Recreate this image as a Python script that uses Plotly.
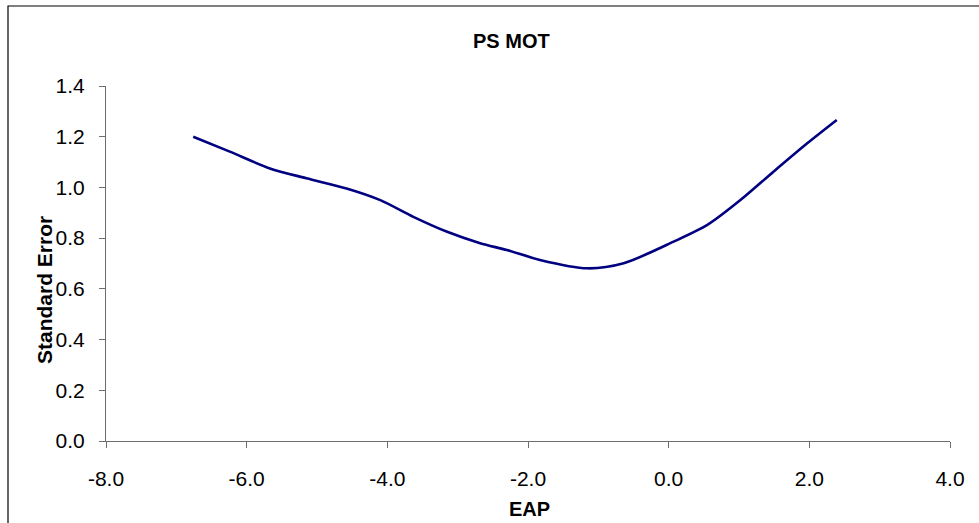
import plotly.graph_objects as go

# EAP score estimates and their standard errors
eap = [-6.76, -6.24, -5.67, -5.15, -4.58, -4.10, -3.63, -3.15, -2.68, -2.30,
       -1.83, -1.16, -0.64, 0.07, 0.55, 1.02, 1.49, 1.97, 2.39]
std_err = [1.200, 1.141, 1.075, 1.036, 0.996, 0.950, 0.884, 0.825, 0.780, 0.753,
           0.714, 0.681, 0.701, 0.786, 0.852, 0.950, 1.062, 1.174, 1.266]

x_ticks = [-8, -6, -4, -2, 0, 2, 4]
x_labels = ["-8.0", "-6.0", "-4.0", "-2.0", "0.0", "2.0", "4.0"]
y_ticks = [0, 0.2, 0.4, 0.6, 0.8, 1.0, 1.2, 1.4]
y_labels = ["0.0", "0.2", "0.4", "0.6", "0.8", "1.0", "1.2", "1.4"]

W, H = 979, 523
L, R, T, B = 106, 29, 86, 82
pw, ph = W - L - R, H - T - B


def px(xp):
    return (xp - L) / pw


def py(yp):
    return (H - B - yp) / ph


font = "Liberation Sans, Arial, sans-serif"

fig = go.Figure()
fig.add_trace(go.Scatter(
    x=eap, y=std_err, mode="lines",
    line=dict(color="#000080", width=2.6, shape="spline", smoothing=0.8),
    showlegend=False, hoverinfo="skip",
))

axis_common = dict(
    showline=True, linecolor="#6e6e6e", linewidth=1,
    ticks="outside", ticklen=6, tickcolor="#6e6e6e", tickwidth=1,
    showgrid=False, zeroline=False,
    tickfont=dict(family=font, size=21, color="black"),
)

fig.update_xaxes(range=[-8, 4], tickvals=x_ticks, ticktext=x_labels,
                 ticklabelstandoff=13, **axis_common)
fig.update_yaxes(range=[0, 1.4], tickvals=y_ticks, ticktext=y_labels,
                 ticklabelstandoff=10, **axis_common)

fig.update_layout(
    width=W, height=H,
    margin=dict(l=L, r=R, t=T, b=B),
    plot_bgcolor="white", paper_bgcolor="white",
    annotations=[
        dict(text="<b>PS MOT</b>", x=px(511), y=py(41), xref="paper", yref="paper",
             xanchor="center", yanchor="middle", showarrow=False,
             font=dict(family=font, size=20, color="black")),
        dict(text="<b>EAP</b>", x=px(529), y=py(509), xref="paper", yref="paper",
             xanchor="center", yanchor="middle", showarrow=False,
             font=dict(family=font, size=20, color="black")),
        dict(text="<b>Standard Error</b>", x=px(44), y=py(290), xref="paper", yref="paper",
             xanchor="center", yanchor="middle", showarrow=False, textangle=-90,
             font=dict(family=font, size=21, color="black")),
    ],
    shapes=[
        dict(type="rect", xref="paper", yref="paper",
             x0=px(8), y0=py(560), x1=px(1010), y1=py(6),
             line=dict(color="black", width=1.2), fillcolor="rgba(0,0,0,0)", layer="below"),
    ],
)

fig.write_html("out.html")
